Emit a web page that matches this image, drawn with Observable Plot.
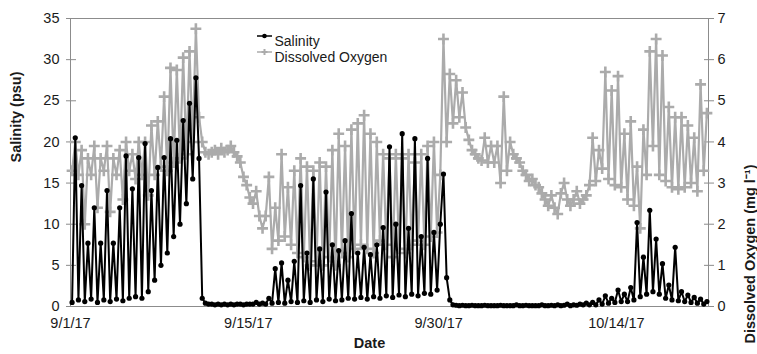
<!DOCTYPE html>
<html>
<head>
<meta charset="utf-8">
<script src="https://cdn.jsdelivr.net/npm/d3@7"></script>
<script src="https://cdn.jsdelivr.net/npm/@observablehq/plot@0.6"></script>
<style>
  body { margin: 0; background: #fff; }
  #chart svg { display: block; }
</style>
</head>
<body>
<div id="chart"></div>
<script>
// Sonde record, one reading every 6 hours starting 9/1/17 03:00 (UTC).
const startTime = Date.UTC(2017, 8, 1, 3);
const stepHours = 6;

// Salinity (psu)
const salinity = [
  // 9/1 – 9/11: tidal pulses building up to the spring peak
  0.5, 20.5, 0.8, 14.7, 0.6, 7.7, 0.9, 12, 0.5, 7.7,
  0.8, 14.1, 0.6, 7.7, 0.9, 12, 0.7, 18.3, 1.0, 14.3,
  1.2, 18.1, 1.0, 19.8, 1.8, 14.1, 3.2, 16.9, 5.0, 18.1,
  6.5, 20.4, 8.5, 20.2, 10.0, 22.6, 12.5, 24.7, 15.5, 27.8,
  18, 1.0, 0.4,
  // 9/11 – 9/16: freshwater
  0.3, 0.3, 0.2, 0.3, 0.2, 0.3, 0.2, 0.3, 0.2, 0.3,
  0.3, 0.2, 0.3, 0.3, 0.3, 0.5, 0.3, 0.4, 0.3, 1.0, 0.4,
  // 9/16 – 9/30
  4.6, 0.5, 5.3, 0.4, 3.2, 0.6, 5.5, 0.5, 14.7, 0.7,
  6.5, 0.5, 15.5, 0.8, 7.0, 0.6, 13.9, 0.9, 7.5, 0.7,
  6.8, 0.8, 8.0, 1.0, 11.3, 0.9, 6.5, 1.1, 7.2, 0.9,
  6.3, 1.2, 7.5, 1.0, 9.6, 1.3, 19.4, 1.1, 10.0, 1.4,
  21.0, 1.2, 9.5, 1.5, 20.4, 1.3, 8.5, 1.6, 18.0, 1.5,
  9.0, 2.0, 10.0, 16.1, 3.5, 0.8,
  // 9/30 – 10/11: freshwater
  0.2, 0.15, 0.1, 0.15, 0.1, 0.1, 0.15, 0.1, 0.1, 0.1,
  0.15, 0.1, 0.1, 0.1, 0.1, 0.15, 0.1, 0.1, 0.1, 0.1,
  0.2, 0.1, 0.1, 0.15, 0.1, 0.1, 0.1, 0.1, 0.2, 0.1,
  0.1, 0.15, 0.1, 0.2, 0.1, 0.15, 0.3, 0.1, 0.2, 0.15,
  0.3, 0.2, 0.4, 0.2,
  // 10/11 – 10/21
  0.5, 0.2, 0.8, 0.3, 1.3, 0.4, 1.0, 0.5, 2.0, 0.6,
  1.5, 0.6, 2.3, 0.8, 10.2, 1.2, 6.0, 1.5, 11.7, 1.8,
  8.2, 1.5, 5.2, 1.0, 2.6, 0.8, 7.2, 0.7, 1.8, 0.6,
  1.4, 0.5, 1.1, 0.4, 0.9, 0.3, 0.6
];

// Dissolved oxygen (mg l-1)
const oxygen = [
  // 9/1 – 9/11
  3.3, 4.0, 3.2, 3.8, 2.0, 3.6, 3.2, 3.9, 2.4, 3.6,
  3.3, 3.9, 2.3, 3.6, 3.2, 3.8, 2.6, 4.0, 3.3, 3.7,
  3.1, 4.0, 3.2, 4.0, 2.7, 4.4, 3.2, 4.5, 3.4, 5.1,
  3.3, 5.8, 3.5, 5.75, 3.6, 6.05, 3.7, 6.2, 4.0, 6.75,
  4.6, 4.0, 3.75,
  // 9/11 – 9/16
  3.7, 3.75, 3.8, 3.7, 3.85, 3.75, 3.8, 3.9, 3.75, 3.65,
  3.5, 3.15, 2.95, 2.65, 2.5, 2.8, 2.2, 1.9, 2.2, 3.15, 1.4,
  // 9/16 – 9/30
  2.4, 1.6, 3.7, 1.7, 2.9, 1.5, 3.3, 1.3, 3.6, 1.2,
  3.4, 1.0, 3.3, 1.1, 3.5, 1.0, 3.4, 1.2, 3.8, 1.0,
  4.2, 1.3, 3.9, 1.2, 4.3, 1.4, 4.45, 1.5, 4.65, 1.4,
  4.2, 1.3, 4.0, 1.6, 3.7, 1.5, 3.6, 1.2, 3.7, 1.4,
  3.6, 1.3, 3.7, 1.5, 3.5, 1.6, 3.7, 1.5, 3.9, 1.7,
  4.0, 1.8, 3.2, 6.5, 4.0, 5.65,
  // 9/30 – 10/11
  4.45, 5.5, 4.6, 5.2, 4.35, 4.05, 3.8, 3.7, 3.6, 3.55,
  4.1, 3.5, 3.9, 3.5, 3.9, 3.0, 5.1, 3.3, 4.0, 3.7,
  3.6, 3.5, 3.3, 3.2, 3.05, 3.1, 2.95, 2.9, 2.75, 2.6,
  2.45, 2.7, 2.4, 2.25, 2.75, 3.0, 2.6, 2.45, 2.6, 2.8,
  2.5, 2.6, 2.7, 2.95,
  // 10/11 – 10/21
  4.1, 3.05, 3.8, 3.35, 5.7, 3.1, 5.25, 2.95, 5.6, 2.9,
  4.2, 2.6, 4.5, 2.45, 3.4, 1.9, 4.3, 3.2, 6.2, 3.9,
  6.5, 3.2, 6.1, 3.05, 4.85, 2.9, 4.6, 2.85, 4.6, 2.9,
  4.4, 3.0, 4.1, 2.8, 5.4, 3.3, 4.7
];

// Axis ticks and labels
const salinityTicks = [0, 5, 10, 15, 20, 25, 30, 35];
const oxygenTicks = [0, 1, 2, 3, 4, 5, 6, 7];
const dateTicks = ["2017-09-01", "2017-09-15", "2017-09-30", "2017-10-14"];
const dateTickLabels = ["9/1/17", "9/15/17", "9/30/17", "10/14/17"];

const seriesNames = ["Salinity", "Dissolved Oxygen"];
const axisTitles = ["Date", "Salinity (psu)", "Dissolved Oxygen (mg l\u207B\u00B9)"];

// Build the tables
const stepMs = stepHours * 3600 * 1000;
const salRows = salinity.map((v, i) => ({ date: new Date(startTime + i * stepMs), value: v }));
const oxyRows = oxygen.map((v, i) => ({ date: new Date(startTime + i * stepMs), value: v }));
const tickDates = dateTicks.map(s => new Date(s + "T00:00:00Z"));
const labelFor = new Map(tickDates.map((d, i) => [+d, dateTickLabels[i]]));

// Dissolved oxygen shares the salinity y scale: 7 mg/l spans the same height as 35 psu
const ratio = 35 / 7;
const oxygenTickPositions = oxygenTicks.map(v => v * ratio);

const axisGray = "#8c8c8c";
const oxyGray = "#ababab";
const ink = "#1a1a1a";
const font = "Liberation Sans, Arial, Helvetica, sans-serif";

const chart = Plot.plot({
  width: 757,
  height: 354,
  marginLeft: 70,
  marginRight: 49,
  marginTop: 18,
  marginBottom: 48,
  style: { fontFamily: font, fontSize: "14.5px", color: ink, background: "#fff" },
  x: { type: "utc", domain: [new Date(Date.UTC(2017, 8, 1)), new Date(Date.UTC(2017, 9, 21, 6))], axis: null },
  y: { domain: [0, 35], axis: null },
  marks: [
    Plot.frame({ stroke: axisGray }),
    // left axis (salinity): tick marks crossing the axis line, then the labels
    Plot.axisY({ anchor: "left", ticks: salinityTicks, tickSize: 10, dx: 6, tickFormat: () => "", label: null, stroke: axisGray }),
    Plot.axisY({ anchor: "left", ticks: salinityTicks, tickSize: 0, tickPadding: 11, label: null, fontSize: 14.5, fill: ink }),
    // right axis (dissolved oxygen)
    Plot.axisY({ anchor: "right", ticks: oxygenTickPositions, tickSize: 10, dx: -5, tickFormat: () => "", label: null, stroke: axisGray }),
    Plot.axisY({ anchor: "right", ticks: oxygenTickPositions, tickFormat: d => String(Math.round(d / ratio)), tickSize: 0, tickPadding: 9, label: null, fontSize: 14.5, fill: ink }),
    // date axis
    Plot.axisX({ ticks: tickDates, tickFormat: d => labelFor.get(+d), tickSize: 0, tickPadding: 11, label: null, fontSize: 14.5, fill: ink }),
    // dissolved oxygen series
    Plot.line(oxyRows, { x: "date", y: d => d.value * ratio, stroke: oxyGray, strokeWidth: 2.2 }),
    Plot.dot(oxyRows, { x: "date", y: d => d.value * ratio, symbol: "plus", r: 3.6, stroke: oxyGray, strokeWidth: 2.6 }),
    // salinity series
    Plot.line(salRows, { x: "date", y: "value", stroke: "#000", strokeWidth: 2 }),
    Plot.dot(salRows, { x: "date", y: "value", r: 2.6, fill: "#000" }),
    // axis titles
    Plot.text([axisTitles[0]], { frameAnchor: "bottom", dx: -20, dy: 41, fontWeight: "bold", fontSize: 14.5, fill: ink }),
    Plot.text([axisTitles[1]], { frameAnchor: "left", dx: -54, rotate: -90, fontWeight: "bold", fontSize: 14.5, fill: ink }),
    Plot.text([axisTitles[2]], { frameAnchor: "right", dx: 42, dy: 2, rotate: -90, fontWeight: "bold", fontSize: 14.5, fill: ink }),
    // legend labels
    Plot.text([seriesNames[0]], { frameAnchor: "top-left", dx: 204, dy: 18, textAnchor: "start", fontSize: 14, fill: ink }),
    Plot.text([seriesNames[1]], { frameAnchor: "top-left", dx: 204, dy: 34, textAnchor: "start", fontSize: 14, fill: ink })
  ]
});

// Legend swatches: a short stroke with the series marker
const svg = d3.select(chart);
const sw = svg.append("g");
[[36, "#000", "circle"], [52, oxyGray, "plus"]].forEach(([y, color, kind]) => {
  sw.append("line").attr("x1", 257).attr("x2", 272).attr("y1", y).attr("y2", y)
    .attr("stroke", color).attr("stroke-width", 1.5);
  if (kind === "circle") {
    sw.append("circle").attr("cx", 264.5).attr("cy", y).attr("r", 2.3).attr("fill", color);
  } else {
    sw.append("path").attr("d", `M${261.5},${y}h6M${264.5},${y - 3}v6`).attr("stroke", color).attr("stroke-width", 2);
  }
});

document.getElementById("chart").appendChild(chart);
</script>
</body>
</html>
